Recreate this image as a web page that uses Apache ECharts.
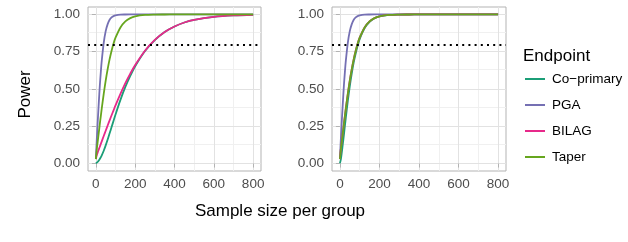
<!DOCTYPE html>
<html>
<head>
<meta charset="utf-8">
<script src="https://cdn.jsdelivr.net/npm/echarts@6/dist/echarts.min.js"></script>
<style>
html,body{margin:0;padding:0;background:#fff;}
#chart{width:628px;height:242px;}
</style>
</head>
<body>
<div id="chart"></div>
<script>
// ---- data ----
const sampleSizes = [0,5,10,15,20,25,30,40,50,60,70,80,90,100,125,150,175,200,250,300,350,400,450,500,600,700,800];
const endpoints = ['Co\u2212primary','PGA','BILAG','Taper'];

// left panel
const coPrimaryLeft = [0.001,0.006,0.012,0.020,0.030,0.042,0.055,0.086,0.122,0.161,0.203,0.245,0.287,0.329,0.427,0.514,0.588,0.653,0.755,0.828,0.882,0.919,0.946,0.964,0.984,0.9935,0.9974];
const pgaLeft       = [0.03,0.17,0.295,0.41,0.52,0.61,0.69,0.81,0.888,0.935,0.964,0.980,0.989,0.994,0.9989,0.9998,1,1,1,1,1,1,1,1,1,1,1];
const bilagLeft     = [0.03,0.057,0.077,0.095,0.113,0.131,0.149,0.185,0.220,0.255,0.290,0.324,0.357,0.390,0.467,0.539,0.603,0.661,0.757,0.829,0.882,0.919,0.946,0.964,0.984,0.9935,0.9974];
const taperLeft     = [0.03,0.10,0.154,0.209,0.264,0.317,0.37,0.467,0.556,0.633,0.70,0.757,0.805,0.844,0.913,0.953,0.9755,0.9875,0.9969,0.9993,0.9998,1,1,1,1,1,1];

// right panel
const coPrimaryRight = [0.002,0.03,0.08,0.135,0.19,0.25,0.31,0.42,0.52,0.605,0.68,0.74,0.792,0.835,0.908,0.950,0.974,0.987,0.9969,0.9993,0.9998,1,1,1,1,1,1];
const pgaRight       = [0.03,0.17,0.295,0.41,0.52,0.61,0.69,0.81,0.888,0.935,0.964,0.980,0.989,0.994,0.9989,0.9998,1,1,1,1,1,1,1,1,1,1,1];
const bilagRight     = [0.03,0.10,0.154,0.209,0.264,0.317,0.37,0.467,0.556,0.633,0.70,0.757,0.805,0.844,0.913,0.953,0.9755,0.9875,0.9969,0.9993,0.9998,1,1,1,1,1,1];
const taperRight     = [0.03,0.10,0.154,0.209,0.264,0.317,0.37,0.467,0.556,0.633,0.70,0.757,0.805,0.844,0.913,0.953,0.9755,0.9875,0.9969,0.9993,0.9998,1,1,1,1,1,1];

const xTickValues = [0,200,400,600,800];
const xMinorValues = [100,300,500,700];
const yTickValues = [0,0.25,0.5,0.75,1];
const yMinorValues = [0.125,0.375,0.625,0.875];
const targetPower = 0.8;

// ---- styling ----
const colors = ['#1B9E77','#7570B3','#E7298A','#66A61E'];
const FONT = 'Liberation Sans, Arial, sans-serif';

const panels = [
  [coPrimaryLeft, pgaLeft, bilagLeft, taperLeft],
  [coPrimaryRight, pgaRight, bilagRight, taperRight]
];

const grids = [
  {left: 88, top: 7, width: 173, height: 164},
  {left: 332, top: 7, width: 174, height: 164}
];

const xAxes = grids.map((g, i) => ({
  gridIndex: i, type: 'value', min: -40, max: 840,
  axisLine: {show: false},
  axisTick: {show: true, customValues: xTickValues, length: 4, lineStyle: {color: '#b3b3b3', width: 1}},
  axisLabel: {customValues: xTickValues, color: '#4d4d4d', fontSize: 13.5, fontFamily: FONT, margin: 6},
  splitLine: {show: false}
}));
const yAxes = grids.map((g, i) => ({
  gridIndex: i, type: 'value', min: -0.05, max: 1.05,
  axisLine: {show: false},
  axisTick: {show: true, customValues: yTickValues, length: 4, lineStyle: {color: '#b3b3b3', width: 1}},
  axisLabel: {customValues: yTickValues, color: '#4d4d4d', fontSize: 13.5, fontFamily: FONT, margin: 8,
              formatter: v => Number(v).toFixed(2)},
  splitLine: {show: false}
}));

const series = [];
grids.forEach((g, gi) => {
  const majorData = xTickValues.map(v => ({xAxis: v})).concat(yTickValues.map(v => ({yAxis: v})));
  const minorData = xMinorValues.map(v => ({xAxis: v})).concat(yMinorValues.map(v => ({yAxis: v})));
  series.push({
    type: 'line', name: 'gridMinor' + gi, xAxisIndex: gi, yAxisIndex: gi, data: [], z: 1,
    markLine: {z: 0, silent: true, symbol: 'none', label: {show: false}, animation: false,
      lineStyle: {color: '#f0f0f0', width: 1, type: 'solid'}, emphasis: {disabled: true}, data: minorData}
  });
  series.push({
    type: 'line', name: 'gridMajor' + gi, xAxisIndex: gi, yAxisIndex: gi, data: [], z: 1,
    markLine: {z: 0, silent: true, symbol: 'none', label: {show: false}, animation: false,
      lineStyle: {color: '#e2e2e2', width: 1, type: 'solid'}, emphasis: {disabled: true}, data: majorData}
  });
  panels[gi].forEach((vals, si) => {
    series.push({
      type: 'line', name: endpoints[si], xAxisIndex: gi, yAxisIndex: gi,
      data: sampleSizes.map((n, k) => [n, vals[k]]),
      showSymbol: false, symbol: 'none', smooth: 0.3, z: 2,
      lineStyle: {color: colors[si], width: 1.8},
      itemStyle: {color: colors[si]},
      emphasis: {disabled: true}
    });
  });
  series.push({
    type: 'line', name: 'target' + gi, xAxisIndex: gi, yAxisIndex: gi, data: [], z: 3,
    markLine: {z: 6, silent: true, symbol: 'none', label: {show: false}, animation: false,
      lineStyle: {color: '#000', width: 2, type: [2, 4.2]}, emphasis: {disabled: true},
      data: [{yAxis: targetPower}]}
  });
});

const chart = echarts.init(document.getElementById('chart'), null, {renderer: 'canvas'});
chart.setOption({
  animation: false,
  backgroundColor: '#fff',
  textStyle: {fontFamily: FONT},
  grid: grids.map(g => Object.assign({show: true, borderColor: '#b3b3b3', borderWidth: 1, backgroundColor: '#fff', containLabel: false}, g)),
  xAxis: xAxes,
  yAxis: yAxes,
  title: {text: 'Endpoint', left: 523, top: 48, padding: 0,
          textStyle: {fontSize: 17, fontWeight: 'normal', color: '#000', fontFamily: FONT}},
  legend: {
    data: endpoints.map(n => ({name: n, icon: 'rect'})), orient: 'vertical', left: 525, top: 72, padding: 0,
    itemWidth: 20, itemHeight: 2, itemGap: 12,
    textStyle: {fontSize: 13.5, color: '#000', fontFamily: FONT, padding: [0,0,0,2]},
    selectedMode: false
  },
  graphic: [
    {type: 'text', x: 25.4, y: 94.5, rotation: Math.PI / 2,
     style: {text: 'Power', font: '17px ' + FONT, fill: '#000', textAlign: 'center', textVerticalAlign: 'middle'}},
    {type: 'text', x: 280, y: 211,
     style: {text: 'Sample size per group', font: '17px ' + FONT, fill: '#000', textAlign: 'center', textVerticalAlign: 'middle'}}
  ],
  series: series
});
</script>
</body>
</html>
